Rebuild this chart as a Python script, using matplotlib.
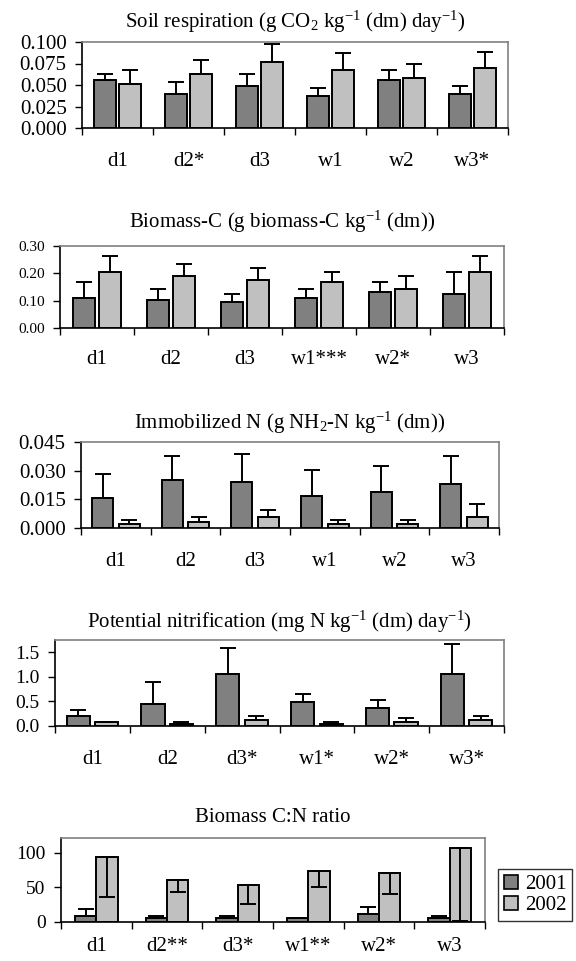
import matplotlib

matplotlib.use("Agg")
import matplotlib.pyplot as plt
import numpy as np
from matplotlib.patches import Patch

plt.rcParams["font.family"] = ["Liberation Serif", "DejaVu Serif"]
plt.rcParams["mathtext.fontset"] = "custom"
plt.rcParams["mathtext.rm"] = "Liberation Serif"
plt.rcParams["mathtext.it"] = "Liberation Serif:italic"

W, H = 576, 961
DARK = "#808080"
LIGHT = "#c0c0c0"

# soil respiration
resp_labels = ["d1", "d2*", "d3", "w1", "w2", "w3*"]
resp_2001 = [0.056, 0.040, 0.049, 0.037, 0.056, 0.040]
resp_2001_sd = [0.007, 0.014, 0.014, 0.009, 0.012, 0.009]
resp_2002 = [0.051, 0.063, 0.077, 0.068, 0.058, 0.070]
resp_2002_sd = [0.016, 0.016, 0.021, 0.019, 0.016, 0.018]

# biomass C
bioc_labels = ["d1", "d2", "d3", "w1***", "w2*", "w3"]
bioc_2001 = [0.110, 0.102, 0.095, 0.110, 0.130, 0.123]
bioc_2001_sd = [0.058, 0.042, 0.028, 0.034, 0.038, 0.082]
bioc_2002 = [0.205, 0.189, 0.174, 0.167, 0.144, 0.205]
bioc_2002_sd = [0.057, 0.044, 0.044, 0.038, 0.045, 0.057]

# immobilized N
immn_labels = ["d1", "d2", "d3", "w1", "w2", "w3"]
immn_2001 = [0.0159, 0.0253, 0.0242, 0.0168, 0.0189, 0.0230]
immn_2001_sd = [0.0123, 0.0123, 0.0146, 0.0135, 0.0135, 0.0146]
immn_2002 = [0.0022, 0.0033, 0.0055, 0.0022, 0.0022, 0.0055]
immn_2002_sd = [0.0021, 0.0022, 0.0040, 0.0021, 0.0021, 0.0071]

# potential nitrification
nitr_labels = ["d1", "d2", "d3*", "w1*", "w2*", "w3*"]
nitr_2001 = [0.20, 0.45, 1.06, 0.49, 0.37, 1.06]
nitr_2001_sd = [0.12, 0.45, 0.53, 0.16, 0.16, 0.61]
nitr_2002 = [0.08, 0.04, 0.12, 0.04, 0.08, 0.12]
nitr_2002_sd = [0.01, 0.04, 0.08, 0.04, 0.08, 0.08]

# biomass C:N ratio (2002 error drawn downwards)
cn_labels = ["d1", "d2**", "d3*", "w1**", "w2*", "w3"]
cn_2001 = [8.7, 5.8, 5.8, 5.8, 11.7, 5.8]
cn_2001_sd = [9.7, 2.9, 2.9, 0.5, 9.2, 2.9]
cn_2002 = [93.7, 61.2, 52.9, 73.3, 70.4, 107.3]
cn_2002_sd = [58.3, 17.5, 26.7, 23.3, 29.6, 105.4]

panels = [
    dict(title=r"Soil respiration (g CO$_2$ kg$^{\mathrm{-1}}$ (dm) day$^{\mathrm{-1}}$)",
         labels=resp_labels, a=resp_2001, ae=resp_2001_sd, b=resp_2002, be=resp_2002_sd,
         yticks=[0, 0.025, 0.05, 0.075, 0.1], fmt="{:.3f}", ytop=0.1, yfs=15,
         box=(82, 508, 42, 128), ty=22, off=0.18, bw=0.31, down=False, xpad=17),
    dict(title=r"Biomass-C (g biomass-C kg$^{\mathrm{-1}}$ (dm))",
         labels=bioc_labels, a=bioc_2001, ae=bioc_2001_sd, b=bioc_2002, be=bioc_2002_sd,
         yticks=[0, 0.1, 0.2, 0.3], fmt="{:.2f}", ytop=0.3, yfs=11,
         box=(60, 504, 246, 328), ty=222, off=0.18, bw=0.30, down=False, xpad=16),
    dict(title=r"Immobilized N (g NH$_2$-N kg$^{\mathrm{-1}}$ (dm))",
         labels=immn_labels, a=immn_2001, ae=immn_2001_sd, b=immn_2002, be=immn_2002_sd,
         yticks=[0, 0.015, 0.03, 0.045], fmt="{:.3f}", ytop=0.045, yfs=15,
         box=(81, 499, 442, 528), ty=423, off=0.19, bw=0.30, down=False, xpad=17),
    dict(title=r"Potential nitrification (mg N kg$^{\mathrm{-1}}$ (dm) day$^{\mathrm{-1}}$)",
         labels=nitr_labels, a=nitr_2001, ae=nitr_2001_sd, b=nitr_2002, be=nitr_2002_sd,
         yticks=[0, 0.5, 1.0, 1.5], fmt="{:.1f}", ytop=1.75, yfs=14,
         box=(55, 504, 640, 726), ty=622, off=0.19, bw=0.31, down=False, xpad=17),
    dict(title="Biomass C:N ratio",
         labels=cn_labels, a=cn_2001, ae=cn_2001_sd, b=cn_2002, be=cn_2002_sd,
         yticks=[0, 50, 100], fmt="{:.0f}", ytop=121, yfs=14,
         box=(61, 485, 838, 922), ty=818, off=0.15, bw=0.30, down=True, xpad=11),
]

fig = plt.figure(figsize=(W / 100, H / 100), dpi=100)

for p in panels:
    x0, x1, y0, y1 = p["box"]
    ax = fig.add_axes([x0 / W, 1 - y1 / H, (x1 - x0) / W, (y1 - y0) / H])
    x = np.arange(len(p["labels"]))
    a, b = np.array(p["a"]), np.array(p["b"])
    ae, be = np.array(p["ae"]), np.array(p["be"])

    ax.bar(x - p["off"], a, p["bw"], color=DARK, edgecolor="black", linewidth=1.4, zorder=2)
    ax.bar(x + p["off"], b, p["bw"], color=LIGHT, edgecolor="black", linewidth=1.4, zorder=2)

    ekw = dict(fmt="none", ecolor="black", elinewidth=1.4, capsize=6, capthick=1.4, zorder=3)
    ax.errorbar(x - p["off"], a, yerr=[np.zeros_like(ae), ae], **ekw)
    if p["down"]:
        ax.errorbar(x + p["off"], b, yerr=[be, np.zeros_like(be)], **ekw)
    else:
        ax.errorbar(x + p["off"], b, yerr=[np.zeros_like(be), be], **ekw)

    ax.set_xlim(-0.5, len(x) - 0.5)
    ax.set_ylim(0, p["ytop"])
    ax.set_yticks(p["yticks"])
    ax.set_yticklabels([p["fmt"].format(v) for v in p["yticks"]], fontsize=p["yfs"])
    ax.tick_params(axis="y", direction="out", length=5, width=1, pad=6)

    # category boundaries carry the tick marks, centres carry the labels
    ax.set_xticks(np.arange(len(x) + 1) - 0.5)
    ax.set_xticklabels([])
    ax.set_xticks(x, minor=True)
    ax.set_xticklabels(p["labels"], minor=True, fontsize=15)
    ax.tick_params(axis="x", which="major", direction="out", length=5, width=1)
    ax.tick_params(axis="x", which="minor", length=0, pad=p["xpad"])

    for side in ["top", "right"]:
        ax.spines[side].set_color("#808080")
        ax.spines[side].set_linewidth(1.2)
    for side in ["left", "bottom"]:
        ax.spines[side].set_color("black")
        ax.spines[side].set_linewidth(1.2)

    fig.text((x0 + x1) / 2 / W, 1 - p["ty"] / H, p["title"], ha="center", va="center",
             fontsize=15)

handles = [Patch(facecolor=DARK, edgecolor="black", linewidth=1.2, label="2001"),
           Patch(facecolor=LIGHT, edgecolor="black", linewidth=1.2, label="2002")]
leg = fig.legend(handles=handles, loc="center",
                 bbox_to_anchor=((497 + 573) / 2 / W, 1 - (868 + 922) / 2 / H),
                 fontsize=15, frameon=True, fancybox=False, handlelength=0.7,
                 handleheight=0.7, handletextpad=0.3, borderpad=0.3, labelspacing=0.05)
leg.get_frame().set_edgecolor("black")
leg.get_frame().set_linewidth(1.0)

fig.savefig("out.png", dpi=100)
